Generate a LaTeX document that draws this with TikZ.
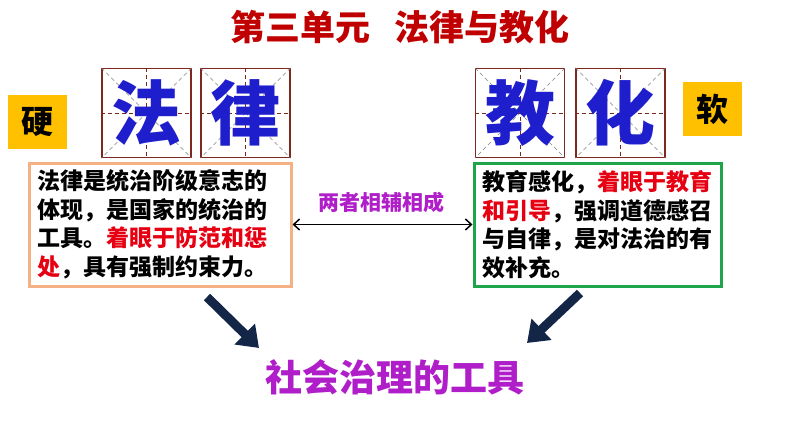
\documentclass[tikz,border=0pt]{standalone}
\usepackage{fontspec}
\setmainfont{Noto Sans CJK SC}
\usetikzlibrary{arrows.meta,calc}
\definecolor{TitleClr}{RGB}{192,0,0}
\definecolor{HanziClr}{RGB}{30,30,205}
\definecolor{GridClr}{RGB}{125,40,30}
\definecolor{TagClr}{RGB}{255,192,0}
\definecolor{LawClr}{RGB}{244,177,131}
\definecolor{EduClr}{RGB}{30,165,75}
\definecolor{KeyClr}{RGB}{230,0,18}
\definecolor{LinkClr}{RGB}{175,30,200}
\definecolor{ArrowClr}{RGB}{20,38,72}

\begin{document}
\begin{tikzpicture}[x=1pt,y=-1pt,
  gridbox/.style={draw=GridClr,line width=1.2pt,minimum size=89pt,inner sep=0pt},
  hanzi/.style={text=HanziClr,inner sep=0pt,font=\fontsize{70}{70}\selectfont\bfseries},
  gridline/.style={GridClr,line width=0.6pt,dash pattern=on 4pt off 3pt},
  diagline/.style={gray,line width=0.5pt,dash pattern=on 4pt off 3pt},
  tagbox/.style={fill=TagClr,minimum width=59pt,minimum height=54pt,inner sep=0pt,
    font=\fontsize{32}{32}\selectfont\bfseries},
  textbox/.style={line width=3pt,minimum height=123pt,inner xsep=8pt,align=left,
    font=\fontsize{23}{28.5}\selectfont\bfseries},
  blockarrow/.style={ArrowClr,line width=9pt,-{Triangle[length=20pt,width=28pt]}}]
\useasboundingbox (0,0) rectangle (794,447);

\node[text=TitleClr,font=\fontsize{35}{35}\selectfont\bfseries] (title) at (400,27) {第三单元\hspace{0.7em}法律与教化};

\node[tagbox] (hard) at (37.5,121.5) {硬};
\node[tagbox] (soft) at (712.5,109) {软};

\node[gridbox] (fa) at (146.5,113) {};
\node[gridbox] (lv) at (245.5,113) {};
\node[gridbox] (jiao) at (520,113) {};
\node[gridbox] (hua) at (620.5,113) {};
\foreach \n in {fa,lv,jiao,hua}{
  \draw[diagline] (\n.north west) -- (\n.south east);
  \draw[diagline] (\n.north east) -- (\n.south west);
  \draw[gridline] (\n.north) -- (\n.south);
  \draw[gridline] (\n.west) -- (\n.east);
}
\node[hanzi] (faz) at (fa) {法};
\node[hanzi] (lvz) at (lv) {律};
\node[hanzi] (jiaoz) at (jiao) {教};
\node[hanzi] (huaz) at (hua) {化};

\node[textbox,draw=LawClr,text width=246pt] (law) at (160,224.5)
  {法律是统治阶级意志的\\体现，是国家的统治的\\工具。\textcolor{KeyClr}{着眼于防范和惩}\\\textcolor{KeyClr}{处}，具有强制约束力。};
\node[textbox,draw=EduClr,text width=231pt] (edu) at (597.5,224.5)
  {教育感化，\textcolor{KeyClr}{着眼于教育}\\\textcolor{KeyClr}{和引导}，强调道德感召\\与自律，是对法治的有\\效补充。};

\draw[line width=1.5pt,{Straight Barb[length=6pt,width=11pt]}-{Straight Barb[length=6pt,width=11pt]}] (law.east) -- (edu.west);
\node[text=LinkClr,font=\fontsize{21}{21}\selectfont\bfseries] (link) at (381,202) {两者相辅相成};

\node[text=LinkClr,font=\fontsize{37}{37}\selectfont\bfseries] (tool) at (395,377) {社会治理的工具};

\coordinate (lt) at (207,297);
\coordinate (lh) at (259,348);
\coordinate (rt) at (580,293);
\coordinate (rh) at (527,343);
\draw[blockarrow] (lt) -- (lh);
\draw[blockarrow] (rt) -- (rh);
\end{tikzpicture}
\end{document}
